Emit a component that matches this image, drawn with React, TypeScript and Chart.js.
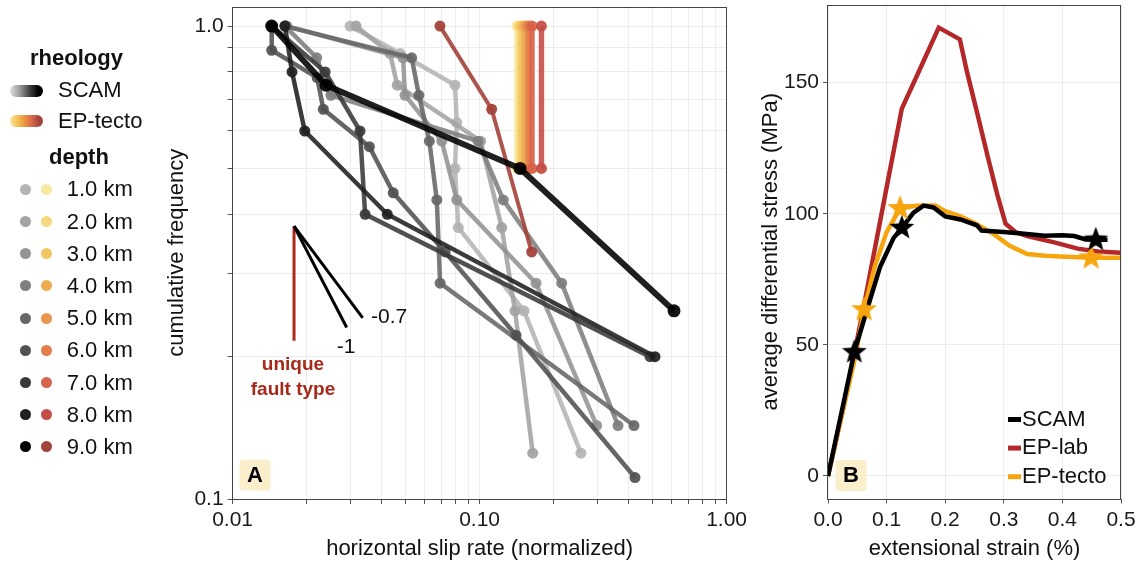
import React, { useEffect, useRef } from "react";
import { Chart, registerables } from "chart.js";

Chart.register(...registerables);

const FONT = "'Liberation Sans', Arial, Helvetica, sans-serif";

// ---------- Panel A: axes ----------
const slipTicks = [0.01, 0.02, 0.03, 0.04, 0.05, 0.06, 0.07, 0.08, 0.09, 0.1, 0.2, 0.3, 0.4, 0.5, 0.6, 0.7, 0.8, 0.9, 1];
const slipLabelValues = [0.01, 0.1, 1];
const slipLabelTexts = ["0.01", "0.10", "1.00"];
const freqTicks = [0.1, 0.2, 0.3, 0.4, 0.5, 0.6, 0.7, 0.8, 0.9, 1];
const freqLabelValues = [0.1, 1];
const freqLabelTexts = ["0.1", "1.0"];

const depthLabels = ["1.0 km", "2.0 km", "3.0 km", "4.0 km", "5.0 km", "6.0 km", "7.0 km", "8.0 km", "9.0 km"];
const scamColors = ["#b4b4b4", "#a3a3a3", "#939393", "#7e7e7e", "#676767", "#515151", "#393939", "#1f1f1f", "#000000"];
const epColors = ["#f9e8a0", "#f7d97e", "#f3c561", "#eeac52", "#ea954e", "#e37d4c", "#d9634a", "#c54f47", "#a4433a"];

// ---------- Panel A: SCAM series (slip rate, cumulative frequency) ----------
const scam1Rate = [0.0299, 0.0476, 0.0795, 0.0808, 0.0795, 0.082, 0.1513, 0.2573];
const scam1Freq = [1, 0.875, 0.75, 0.625, 0.5, 0.375, 0.25, 0.125];
const scam2Rate = [0.0316, 0.0434, 0.0464, 0.101, 0.1229, 0.1391, 0.1641];
const scam2Freq = [1, 0.875, 0.75, 0.571, 0.375, 0.25, 0.125];
const scam3Rate = [0.0166, 0.049, 0.0499, 0.0703, 0.0808, 0.1692, 0.2979];
const scam3Freq = [1, 0.857, 0.714, 0.571, 0.429, 0.286, 0.143];
const scam4Rate = [0.0163, 0.0219, 0.025, 0.0986, 0.1247, 0.2149, 0.3634];
const scam4Freq = [1, 0.857, 0.714, 0.571, 0.429, 0.286, 0.143];
const scam5Rate = [0.0163, 0.0531, 0.0568, 0.0626, 0.0671, 0.0692, 0.4218];
const scam5Freq = [1, 0.857, 0.714, 0.571, 0.429, 0.286, 0.143];
const scam6Rate = [0.0144, 0.0144, 0.022, 0.0233, 0.0358, 0.0447, 0.0725, 0.1404, 0.4257];
const scam6Freq = [1, 0.889, 0.778, 0.667, 0.556, 0.444, 0.333, 0.222, 0.111];
const scam7Rate = [0.0144, 0.0237, 0.0328, 0.0344, 0.4897];
const scam7Freq = [1, 0.8, 0.6, 0.4, 0.2];
const scam8Rate = [0.0163, 0.0174, 0.0196, 0.0423, 0.5129];
const scam8Freq = [1, 0.8, 0.6, 0.4, 0.2];
const scam9Rate = [0.0144, 0.0239, 0.1458, 0.6124];
const scam9Freq = [1, 0.75, 0.5, 0.25];

// ---------- Panel A: EP-tecto series ----------
const epPairFreq = [1, 0.5];
const ep1Rate = [0.1417, 0.1417];
const ep2Rate = [0.1444, 0.1444];
const ep3Rate = [0.1472, 0.1472];
const ep4Rate = [0.1513, 0.1513];
const ep5Rate = [0.1556, 0.1556];
const ep6Rate = [0.1585, 0.1585];
const ep7Rate = [0.163, 0.163];
const ep8Rate = [0.178, 0.178];
const ep9Rate = [0.0691, 0.1119, 0.1625];
const ep9Freq = [1, 0.667, 0.333];

// ---------- Panel A: slope guides ----------
const guideOneRate = [0.01773, 0.02897];
const guideOneFreq = [0.3775, 0.2305];
const guideSevenRate = [0.01773, 0.03363];
const guideSevenFreq = [0.3775, 0.2416];
const uniqueRate = [0.01773, 0.01773];
const uniqueFreq = [0.3775, 0.216];

// ---------- Panel B ----------
const strainTicks = [0, 0.1, 0.2, 0.3, 0.4, 0.5];
const stressTicks = [0, 50, 100, 150];

const scamStrain = [0, 0.045, 0.066, 0.089, 0.112, 0.126, 0.146, 0.163, 0.18, 0.2, 0.226, 0.254, 0.262, 0.3, 0.33, 0.37, 0.4, 0.42, 0.44, 0.457, 0.477];
const scamStress = [0, 47.3, 63, 79.8, 90.8, 94.6, 100.4, 103.1, 102.4, 99, 97.8, 95.6, 93.6, 93, 92.5, 91.6, 91.8, 91.5, 90.2, 90.1, 90.1];
const labStrain = [0, 0.03, 0.06, 0.1, 0.126, 0.157, 0.189, 0.225, 0.2375, 0.255, 0.272, 0.289, 0.303, 0.32, 0.34, 0.386, 0.426, 0.46, 0.5];
const labStress = [0, 30, 63.4, 110, 140.1, 155.2, 171, 166.5, 153.8, 138, 122.3, 107.2, 96.2, 93, 91.5, 89.1, 86.7, 85.6, 85.1];
const tectoStrain = [0, 0.045, 0.0616, 0.08, 0.1, 0.123, 0.15, 0.183, 0.2, 0.226, 0.25, 0.283, 0.31, 0.34, 0.37, 0.397, 0.449, 0.5];
const tectoStress = [0, 44, 63.4, 80, 93, 102, 103, 103.1, 101, 99, 96.5, 92.2, 87.8, 84.6, 84, 83.7, 83.2, 83.2];
const scamStarStrain = [0.045, 0.126, 0.457];
const scamStarStress = [47.2, 94.6, 90.1];
const tectoStarStrain = [0.0616, 0.123, 0.449];
const tectoStarStress = [63.4, 102, 83.2];

const legendB = ["SCAM", "EP-lab", "EP-tecto"];
const legendBColors = ["#000000", "#b5282a", "#f6a50f"];

// ---------- helpers ----------
const xy = (xs: number[], ys: number[]) => xs.map((x, i) => ({ x, y: ys[i] }));
const rgba = (hex: string, a: number) => {
  const n = parseInt(hex.slice(1), 16);
  return `rgba(${(n >> 16) & 255},${(n >> 8) & 255},${n & 255},${a})`;
};
const findLabel = (vals: number[], texts: string[], v: number) => {
  const i = vals.findIndex((t) => Math.abs(t - v) < 1e-9);
  return i >= 0 ? texts[i] : "";
};

function makeStar(color: string, R: number) {
  const c = document.createElement("canvas");
  const s = Math.ceil(R * 2 + 2);
  c.width = s;
  c.height = s;
  const ctx = c.getContext("2d")!;
  const r = R * 0.42;
  ctx.beginPath();
  for (let i = 0; i < 10; i++) {
    const ang = -Math.PI / 2 + (i * Math.PI) / 5;
    const rad = i % 2 === 0 ? R : r;
    const px = s / 2 + rad * Math.cos(ang);
    const py = s / 2 + rad * Math.sin(ang);
    if (i === 0) ctx.moveTo(px, py);
    else ctx.lineTo(px, py);
  }
  ctx.closePath();
  ctx.fillStyle = color;
  ctx.fill();
  return c;
}

const framePlugin = {
  id: "frame",
  afterDraw(chart: any) {
    const { ctx, chartArea } = chart;
    const l = Math.round(chartArea.left);
    const t = Math.round(chartArea.top);
    const r = Math.round(chartArea.right);
    const b = Math.round(chartArea.bottom);
    ctx.save();
    ctx.strokeStyle = "#444444";
    ctx.lineWidth = 1;
    ctx.strokeRect(l - 0.5, t + 0.5, r - l, b - t);
    ctx.restore();
  },
};

function roundBox(ctx: CanvasRenderingContext2D, x: number, y: number, w: number, h: number, r: number) {
  ctx.beginPath();
  ctx.moveTo(x + r, y);
  ctx.lineTo(x + w - r, y);
  ctx.quadraticCurveTo(x + w, y, x + w, y + r);
  ctx.lineTo(x + w, y + h - r);
  ctx.quadraticCurveTo(x + w, y + h, x + w - r, y + h);
  ctx.lineTo(x + r, y + h);
  ctx.quadraticCurveTo(x, y + h, x, y + h - r);
  ctx.lineTo(x, y + r);
  ctx.quadraticCurveTo(x, y, x + r, y);
  ctx.closePath();
}

const annotA = {
  id: "annotA",
  afterDraw(chart: any) {
    const ctx = chart.ctx as CanvasRenderingContext2D;
    ctx.save();
    ctx.fillStyle = "#111";
    ctx.font = `21px ${FONT}`;
    ctx.textBaseline = "middle";
    ctx.textAlign = "left";
    ctx.fillText("-0.7", 371, 317);
    ctx.textAlign = "center";
    ctx.fillText("-1", 346, 347);
    ctx.fillStyle = "#a8281a";
    ctx.font = `bold 19px ${FONT}`;
    ctx.fillText("unique", 293, 365);
    ctx.fillText("fault type", 293, 390);
    ctx.fillStyle = "#fbeecb";
    roundBox(ctx, 239.5, 459.5, 31, 31, 4);
    ctx.fill();
    ctx.fillStyle = "#000";
    ctx.font = `bold 22px ${FONT}`;
    ctx.fillText("A", 255, 476);
    ctx.restore();
  },
};

const annotB = {
  id: "annotB",
  afterDraw(chart: any) {
    const ctx = chart.ctx as CanvasRenderingContext2D;
    ctx.save();
    ctx.fillStyle = "#fbeecb";
    roundBox(ctx, 95.5, 460, 31, 31, 4);
    ctx.fill();
    ctx.fillStyle = "#000";
    ctx.font = `bold 22px ${FONT}`;
    ctx.textAlign = "center";
    ctx.textBaseline = "middle";
    ctx.fillText("B", 111, 476);
    ctx.font = `22px ${FONT}`;
    ctx.textAlign = "left";
    legendB.forEach((t, i) => {
      const y = 419.5 + i * 28.6;
      ctx.strokeStyle = legendBColors[i];
      ctx.lineWidth = 5;
      ctx.beginPath();
      ctx.moveTo(268, y);
      ctx.lineTo(281, y);
      ctx.stroke();
      ctx.fillStyle = "#111";
      ctx.fillText(t, 282, y);
    });
    ctx.restore();
  },
};

const tickFont = { family: FONT, size: 21 };
const titleFont = { family: FONT, size: 22 };

const fitX = (h: number) => (s: any) => {
  s.height = h;
  s.paddingLeft = 0;
  s.paddingRight = 0;
  s.paddingTop = 0;
  s.paddingBottom = 0;
};
const fitY = (w: number) => (s: any) => {
  s.width = w;
  s.paddingLeft = 0;
  s.paddingRight = 0;
  s.paddingTop = 0;
  s.paddingBottom = 0;
};

export default function App() {
  const refA = useRef<HTMLCanvasElement>(null);
  const refB = useRef<HTMLCanvasElement>(null);

  useEffect(() => {
    const scamRates = [scam1Rate, scam2Rate, scam3Rate, scam4Rate, scam5Rate, scam6Rate, scam7Rate, scam8Rate, scam9Rate];
    const scamFreqs = [scam1Freq, scam2Freq, scam3Freq, scam4Freq, scam5Freq, scam6Freq, scam7Freq, scam8Freq, scam9Freq];
    const epRates = [ep1Rate, ep2Rate, ep3Rate, ep4Rate, ep5Rate, ep6Rate, ep7Rate, ep8Rate, ep9Rate];
    const epFreqs = [epPairFreq, epPairFreq, epPairFreq, epPairFreq, epPairFreq, epPairFreq, epPairFreq, epPairFreq, ep9Freq];

    const dsA: any[] = [];
    const guide = (xs: number[], ys: number[], color: string) => ({
      data: xy(xs, ys),
      borderColor: color,
      borderWidth: 3,
      pointRadius: 0,
      order: 0,
    });
    dsA.push(guide(guideOneRate, guideOneFreq, "#000"));
    dsA.push(guide(guideSevenRate, guideSevenFreq, "#000"));
    dsA.push(guide(uniqueRate, uniqueFreq, "#b0281a"));
    scamRates.forEach((xs, i) => {
      const last = i === 8;
      dsA.push({
        data: xy(xs, scamFreqs[i]),
        borderColor: rgba(scamColors[i], 0.88),
        backgroundColor: rgba(scamColors[i], 0.92),
        borderWidth: last ? 6 : 4.5,
        pointRadius: last ? 6.5 : 5.5,
        pointBorderWidth: 0,
        pointHoverRadius: 0,
        order: last ? 2 : 30 - i,
      });
    });
    epRates.forEach((xs, i) => {
      dsA.push({
        data: xy(xs, epFreqs[i]),
        borderColor: rgba(epColors[i], 0.9),
        backgroundColor: rgba(epColors[i], 0.95),
        borderWidth: i === 8 ? 4 : 5.5,
        pointRadius: 5.5,
        pointBorderWidth: 0,
        pointHoverRadius: 0,
        order: 20 - i,
      });
    });

    const gridA = { color: "#ececec", lineWidth: 1, tickColor: "#555", tickLength: 5 };
    const chartA = new Chart(refA.current!, {
      type: "line",
      data: { datasets: dsA },
      options: {
        animation: false,
        responsive: false,
        events: [],
        layout: { padding: { left: 160, top: 5, right: 760 - 726.6, bottom: 0 } },
        plugins: { legend: { display: false }, tooltip: { enabled: false } },
        scales: {
          x: {
            type: "logarithmic",
            min: 0.01,
            max: 1,
            afterBuildTicks: (s: any) => {
              s.ticks = slipTicks.map((v) => ({ value: v }));
            },
            afterFit: fitX(66),
            grid: gridA,
            border: { display: false },
            ticks: {
              autoSkip: false,
              maxRotation: 0,
              padding: 4,
              font: tickFont,
              color: "#1a1a1a",
              callback: (v: any) => findLabel(slipLabelValues, slipLabelTexts, Number(v)),
            },
            title: {
              display: true,
              text: "horizontal slip rate (normalized)",
              font: titleFont,
              color: "#111",
              padding: { top: 0, bottom: 3 },
            },
          },
          y: {
            type: "logarithmic",
            min: 0.1,
            max: 1.1,
            afterBuildTicks: (s: any) => {
              s.ticks = freqTicks.map((v) => ({ value: v }));
            },
            afterFit: fitY(72.6),
            grid: gridA,
            border: { display: false },
            ticks: {
              autoSkip: false,
              padding: 4,
              font: tickFont,
              color: "#1a1a1a",
              callback: (v: any) => findLabel(freqLabelValues, freqLabelTexts, Number(v)),
            },
            title: {
              display: true,
              text: "cumulative frequency",
              font: titleFont,
              color: "#111",
              padding: { top: 4, bottom: 0 },
            },
          },
        },
      } as any,
      plugins: [framePlugin, annotA],
    });

    const starBlack = makeStar("#000000", 13);
    const starOrange = makeStar("#f6a50f", 13.5);
    const line = (xs: number[], ys: number[], color: string, order: number) => ({
      data: xy(xs, ys),
      borderColor: color,
      borderWidth: 4.5,
      pointRadius: 0,
      pointHoverRadius: 0,
      tension: 0,
      order,
    });
    const chartB = new Chart(refB.current!, {
      type: "line",
      data: {
        datasets: [
          { data: xy(scamStarStrain, scamStarStress), showLine: false, pointStyle: starBlack, order: 0 },
          { data: xy(tectoStarStrain, tectoStarStress), showLine: false, pointStyle: starOrange, order: 1 },
          line(scamStrain, scamStress, "#000000", 2),
          line(tectoStrain, tectoStress, "#f6a50f", 3),
          line(labStrain, labStress, "#b5282a", 4),
        ],
      },
      options: {
        animation: false,
        responsive: false,
        events: [],
        layout: { padding: { left: 14, top: 4, right: 24, bottom: 0 } },
        plugins: { legend: { display: false }, tooltip: { enabled: false } },
        scales: {
          x: {
            type: "linear",
            min: 0,
            max: 0.5,
            afterBuildTicks: (s: any) => {
              s.ticks = strainTicks.map((v) => ({ value: v }));
            },
            afterFit: fitX(66.5),
            grid: gridA,
            border: { display: false },
            ticks: {
              autoSkip: false,
              maxRotation: 0,
              padding: 4,
              font: tickFont,
              color: "#1a1a1a",
              callback: (v: any) => Number(v).toFixed(1),
            },
            title: {
              display: true,
              text: "extensional strain (%)",
              font: titleFont,
              color: "#111",
              padding: { top: 0, bottom: 3 },
            },
          },
          y: {
            type: "linear",
            min: -8.6,
            max: 179.6,
            afterBuildTicks: (s: any) => {
              s.ticks = stressTicks.map((v) => ({ value: v }));
            },
            afterFit: fitY(74),
            grid: gridA,
            border: { display: false },
            ticks: {
              autoSkip: false,
              padding: 4,
              font: tickFont,
              color: "#1a1a1a",
              callback: (v: any) => String(v),
            },
            title: {
              display: true,
              text: "average differential stress (MPa)",
              font: titleFont,
              color: "#111",
              padding: { top: 4, bottom: 0 },
            },
          },
        },
      } as any,
      plugins: [framePlugin, annotB],
    });

    return () => {
      chartA.destroy();
      chartB.destroy();
    };
  }, []);

  const rowY = (i: number) => 189.3 + i * 32.2;
  const txt = (left: number, cy: number, text: string, bold = false) => (
    <div
      key={text + left + cy}
      style={{
        position: "absolute",
        left,
        top: cy - 15,
        height: 30,
        lineHeight: "30px",
        fontFamily: FONT,
        fontSize: 22,
        fontWeight: bold ? 700 : 400,
        color: "#111",
        whiteSpace: "nowrap",
      }}
    >
      {text}
    </div>
  );
  const dot = (cx: number, cy: number, color: string, key: string) => (
    <div
      key={key}
      style={{
        position: "absolute",
        left: cx - 5.5,
        top: cy - 5.5,
        width: 11,
        height: 11,
        borderRadius: "50%",
        background: color,
      }}
    />
  );

  return (
    <div style={{ position: "absolute", left: 0, top: 0, width: 1145, height: 565, background: "#fff", overflow: "hidden" }}>
      <canvas ref={refA} width={760} height={565} style={{ position: "absolute", left: 0, top: 0, width: 760, height: 565 }} />
      <canvas ref={refB} width={405} height={565} style={{ position: "absolute", left: 740, top: 0, width: 405, height: 565 }} />
      {txt(30, 58, "rheology", true)}
      <div
        style={{
          position: "absolute",
          left: 10,
          top: 85,
          width: 33,
          height: 12,
          borderRadius: 6,
          background: "linear-gradient(to right, #e0e0e0, #9a9a9a 30%, #3a3a3a 62%, #000 85%)",
        }}
      />
      {txt(58, 90, "SCAM")}
      <div
        style={{
          position: "absolute",
          left: 10,
          top: 115,
          width: 33,
          height: 12,
          borderRadius: 6,
          background: "linear-gradient(to right, #fbe79a, #f0b445 30%, #e0704a 62%, #a4433a 88%)",
        }}
      />
      {txt(58, 121, "EP-tecto")}
      {txt(49, 157, "depth", true)}
      {depthLabels.map((d, i) => [
        dot(25, rowY(i), scamColors[i], "s" + i),
        dot(46.7, rowY(i), epColors[i], "e" + i),
        txt(66.7, rowY(i), d),
      ])}
    </div>
  );
}
